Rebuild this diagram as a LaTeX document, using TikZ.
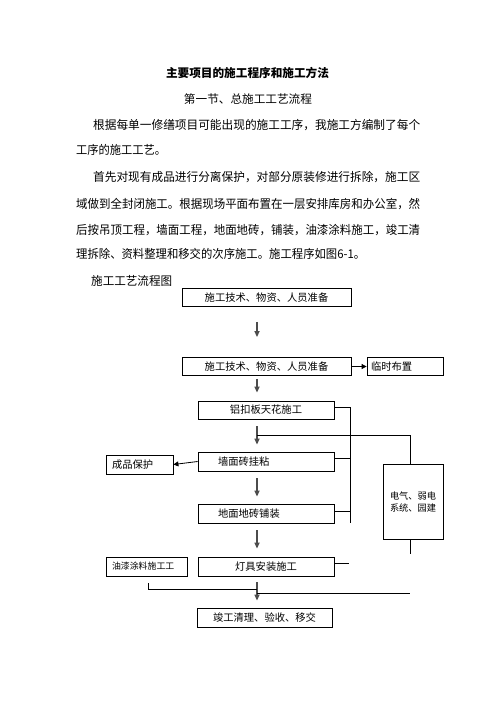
\documentclass[tikz,border=0pt]{standalone}
\usepackage{fontspec}
\usepackage{graphicx}
\usepackage{tikz}
\usetikzlibrary{arrows.meta}
\newfontfamily\cjk{Noto Sans CJK SC}

\newcommand{\fitline}[2]{\resizebox{#1}{\height}{#2}}

\tikzset{
  body/.style={anchor=west, inner sep=0pt, font=\cjk\fontsize{12}{14}\selectfont},
  box/.style={draw, line width=0.8pt, inner sep=0pt, minimum height=18pt,
    font=\cjk\fontsize{10.3}{12}\selectfont},
  leftbox/.style={box, align=left},
  down/.style={draw=black!70, line width=1.5pt, -{Triangle[length=6pt,width=5pt]}},
  link/.style={line width=0.8pt},
  side/.style={line width=0.8pt, -{Triangle[length=5pt,width=5pt]}}
}

\begin{document}
\begin{tikzpicture}[x=1pt, y=-1pt]
    \useasboundingbox (0,0) rectangle (496,702);

    \node[inner sep=0pt, font=\cjk\bfseries\fontsize{11.7}{14}\selectfont] (title) at (247.5,73) {\fitline{163pt}{主要项目的施工程序和施工方法}};
    \node[inner sep=0pt, font=\cjk\fontsize{11.6}{14}\selectfont] (section) at (248,99) {\fitline{128pt}{第一节、总施工工艺流程}};

    \node[body] (line1) at (93,125) {\fitline{327pt}{根据每单一修缮项目可能出现的施工工序，我施工方编制了每个}};
    \node[body] (line2) at (76,150) {\fitline{90pt}{工序的施工工艺。}};
    \node[body] (line3) at (93,177) {\fitline{327pt}{首先对现有成品进行分离保护，对部分原装修进行拆除，施工区}};
    \node[body] (line4) at (76,204) {\fitline{344pt}{域做到全封闭施工。根据现场平面布置在一层安排库房和办公室，然}};
    \node[body] (line5) at (76,230) {\fitline{344pt}{后按吊顶工程，墙面工程，地面地砖，铺装，油漆涂料施工，竣工清}};
    \node[body] (line6) at (76,254) {\fitline{289pt}{理拆除、资料整理和移交的次序施工。施工程序如图6-1。}};
    \node[body] (caption) at (91,281) {\fitline{81pt}{施工工艺流程图}};

    \node[box, minimum width=169pt] (prep1) at (266.5,297.5) {施工技术、物资、人员准备};
    \node[box, minimum width=169pt] (prep2) at (266.5,366.5) {施工技术、物资、人员准备};
    \node[leftbox, text width=68pt, inner xsep=4pt] (temp) at (405,366.5) {临时布置};
    \node[box, minimum width=136pt] (ceiling) at (266,410) {铝扣板天花施工};
    \node[leftbox, text width=96pt, inner xsep=20pt, minimum height=19pt] (wall) at (266,461.5) {墙面砖挂粘};
    \node[leftbox, text width=96pt, inner xsep=20pt, minimum height=19pt] (floor) at (266,513.5) {地面地砖铺装};
    \node[box, minimum width=136pt, minimum height=19pt] (lamp) at (266,566.5) {灯具安装施工};
    \node[leftbox, text width=55pt, inner xsep=6pt, minimum height=19pt] (protect) at (139.5,464.5) {成品保护};
    \node[leftbox, text width=69pt, inner xsep=6pt, minimum height=19pt,
      font=\cjk\fontsize{8.9}{11}\selectfont] (paint) at (146.5,566.5) {油漆涂料施工工};
    \node[box, minimum width=60pt, minimum height=75pt, align=center,
      font=\cjk\fontsize{9.2}{12}\selectfont] (elec) at (413,501.5) {电气、弱电\\系统、园建};
    \node[box, minimum width=135pt, minimum height=19pt] (finish) at (264.5,617.5) {竣工清理、验收、移交};

    \coordinate (axis) at (257,0);
    \coordinate (join1) at (257,435);
    \coordinate (join2) at (257,589);
    \coordinate (join3) at (257,593);

    \draw[down, shorten <=15pt, shorten >=20pt] (axis |- prep1.south) -- (axis |- prep2.north);
    \draw[down, shorten <=3pt, shorten >=8pt] (axis |- prep2.south) -- (axis |- ceiling.north);
    \draw[down, shorten <=7pt, shorten >=7pt] (axis |- ceiling.south) -- (axis |- wall.north);
    \draw[down, shorten <=7pt, shorten >=7pt] (axis |- wall.south) -- (axis |- floor.north);
    \draw[down, shorten <=7pt, shorten >=8pt] (axis |- floor.south) -- (axis |- lamp.north);
    \draw[down, shorten <=6pt, shorten >=7pt] (axis |- lamp.south) -- (axis |- finish.north);

    \draw[side] (prep2.east) -- (temp.west);
    \draw[side] (wall.west) -- (protect.east);

    \draw[link] ([yshift=3pt]ceiling.east) -- ++(16,0) coordinate (bus) -- (bus |- floor.south);
    \draw[link] ([yshift=3pt]wall.east) -- ++(16,0);
    \draw[link] ([yshift=2pt]floor.east) -- ++(16,0);
    \draw[link] ([yshift=3pt]lamp.east) -- ++(15,0);

    \draw[link] ([xshift=-3pt]elec.north) |- (join1);
    \draw[link] ([xshift=-3pt]elec.south) -- ++(0,15);
    \draw[link] ([xshift=1.5pt,yshift=-7pt]paint.south) |- (join2);
    \draw[link] (join3) -- ([xshift=-3pt]elec.south |- join3);
\end{tikzpicture}
\end{document}
